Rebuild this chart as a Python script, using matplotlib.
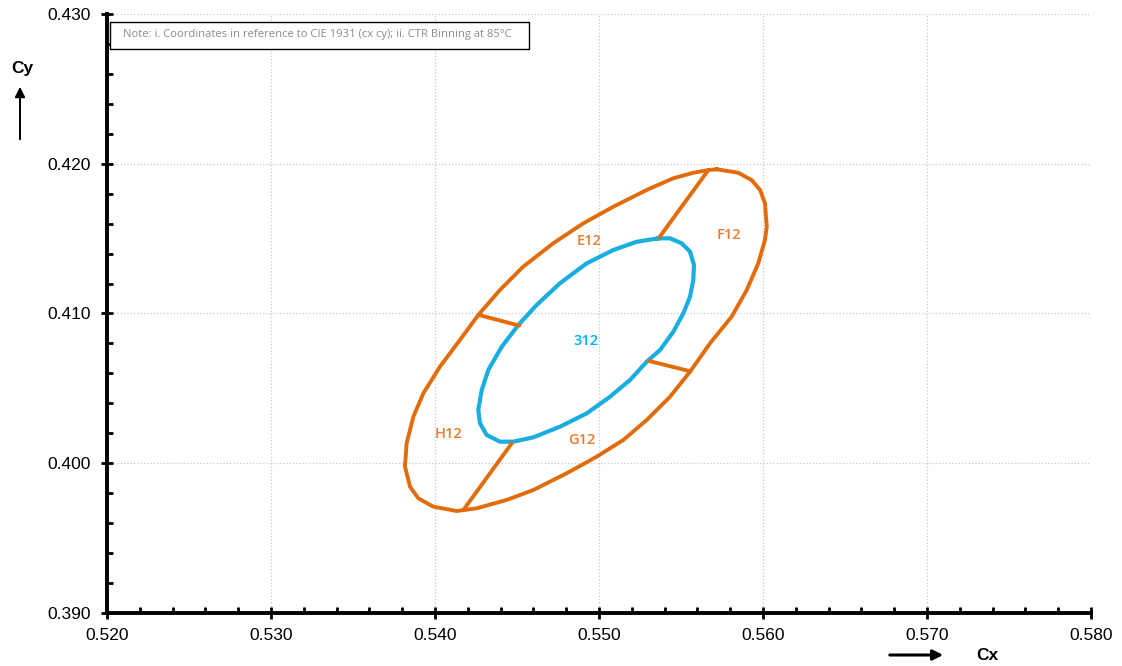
import numpy as np
import matplotlib.pyplot as plt
from matplotlib.patches import Rectangle, FancyArrowPatch
from matplotlib.ticker import MultipleLocator, FormatStrFormatter

# outer boundary (E12/F12/G12/H12 ring)
outer_x = [0.55718, 0.55849, 0.55931, 0.55982, 0.56012, 0.56023, 0.56012, 0.55971,
           0.55901, 0.55809, 0.55677, 0.55555, 0.55433, 0.55291, 0.55148, 0.54986,
           0.54803, 0.54599, 0.54437, 0.54254, 0.54132, 0.53990, 0.53898, 0.53848,
           0.53817, 0.53827, 0.53868, 0.53929, 0.54030, 0.54152, 0.54264, 0.54396,
           0.54538, 0.54721, 0.54904, 0.55087, 0.55291, 0.55453, 0.55575, 0.55667,
           0.55718]
outer_y = [0.41963, 0.41940, 0.41891, 0.41825, 0.41736, 0.41580, 0.41491, 0.41335,
           0.41157, 0.40979, 0.40801, 0.40611, 0.40444, 0.40289, 0.40155, 0.40044,
           0.39933, 0.39821, 0.39755, 0.39699, 0.39681, 0.39710, 0.39766, 0.39843,
           0.39977, 0.40133, 0.40311, 0.40467, 0.40645, 0.40823, 0.40990, 0.41157,
           0.41313, 0.41469, 0.41602, 0.41713, 0.41825, 0.41903, 0.41940, 0.41958,
           0.41963]

# inner bin 312
inner_x = [0.55362, 0.55433, 0.55504, 0.55555, 0.55579, 0.55575, 0.55555, 0.55514,
           0.55453, 0.55372, 0.55291, 0.55189, 0.55067, 0.54925, 0.54762, 0.54599,
           0.54477, 0.54396, 0.54315, 0.54274, 0.54264, 0.54285, 0.54325, 0.54407,
           0.54508, 0.54620, 0.54762, 0.54925, 0.55087, 0.55230, 0.55362]
inner_y = [0.41502, 0.41502, 0.41469, 0.41413, 0.41324, 0.41224, 0.41112, 0.41001,
           0.40878, 0.40756, 0.40678, 0.40556, 0.40444, 0.40333, 0.40244, 0.40173,
           0.40144, 0.40144, 0.40189, 0.40267, 0.40356, 0.40489, 0.40623, 0.40778,
           0.40923, 0.41057, 0.41202, 0.41335, 0.41424, 0.41479, 0.41502]

# dividers between the outer bins (outer point -> inner point)
div_x = [(0.55667, 0.55368), (0.55550, 0.55305), (0.54268, 0.54514), (0.54173, 0.54468)]
div_y = [(0.41958, 0.41509), (0.40616, 0.40683), (0.40990, 0.40919), (0.39688, 0.40133)]

bin_names = ["E12", "F12", "G12", "H12", "312"]
bin_x = [0.54939, 0.55793, 0.54896, 0.54085, 0.54921]
bin_y = [0.41484, 0.41524, 0.40155, 0.40195, 0.40816]

orange = "#E36C0A"
blue = "#1AADE0"

plt.rcParams['font.family'] = ['Liberation Sans', 'DejaVu Sans']

W, H = 1122, 666
fig = plt.figure(figsize=(W / 100, H / 100), dpi=100)
ax = fig.add_axes([107 / W, 53 / H, 984 / W, 599 / H])

ax.plot(outer_x, outer_y, color=orange, lw=2.8, solid_joinstyle='round', zorder=3)
ax.plot(inner_x, inner_y, color=blue, lw=3.0, solid_joinstyle='round', zorder=3)
for xs, ys in zip(div_x, div_y):
    ax.plot(xs, ys, color=orange, lw=2.8, solid_capstyle='round', zorder=3)

for name, x, y in zip(bin_names, bin_x, bin_y):
    ax.text(x, y, name, color="#00B0F0" if name == "312" else "#E97C30",
            fontsize=10.5, fontweight='semibold', ha='center', va='center',
            family=['Open Sans', 'DejaVu Sans'])

ax.set_xlim(0.52, 0.58)
ax.set_ylim(0.39, 0.43)
ax.xaxis.set_major_locator(MultipleLocator(0.01))
ax.yaxis.set_major_locator(MultipleLocator(0.01))
ax.xaxis.set_minor_locator(MultipleLocator(0.002))
ax.yaxis.set_minor_locator(MultipleLocator(0.002))
ax.xaxis.set_major_formatter(FormatStrFormatter('%.3f'))
ax.yaxis.set_major_formatter(FormatStrFormatter('%.3f'))

ax.grid(True, which='major', color='#c8c8c8', ls=':', lw=0.9)
ax.set_axisbelow(True)

for s in ['top', 'right']:
    ax.spines[s].set_visible(False)
for s in ['left', 'bottom']:
    ax.spines[s].set_linewidth(2.8)
    ax.spines[s].set_color('black')

ax.tick_params(which='major', direction='inout', length=9, width=2, labelsize=12.5,
               colors='black')
ax.tick_params(which='minor', direction='in', length=4, width=2)
ax.tick_params(axis='x', which='major', pad=6)
ax.tick_params(axis='y', which='major', pad=7)

# note box
fig.add_artist(Rectangle((110 / W, 1 - 49 / H), 419 / W, 27 / H, transform=fig.transFigure,
                         fc='white', ec='black', lw=1.0, zorder=5))
fig.text(123 / W, 1 - 35 / H, "Note: i. Coordinates in reference to CIE 1931 (cx cy); ii. CTR Binning at 85°C",
         fontsize=8.1, color='#8c8c8c', ha='left', va='center', family=['Open Sans', 'DejaVu Sans'],
         zorder=6)

# axis titles with arrows
fig.text(22 / W, 1 - 68 / H, "Cy", fontsize=12.5, fontweight='bold', ha='center', va='center')
fig.text(987 / W, 1 - 655 / H, "Cx", fontsize=12.5, fontweight='bold', ha='center', va='center')
fig.add_artist(FancyArrowPatch((20 / W, 1 - 142 / H), (20 / W, 1 - 84 / H), transform=fig.transFigure,
                               arrowstyle='-|>,head_length=6,head_width=3', color='black', lw=1.4))
fig.add_artist(FancyArrowPatch((887 / W, 1 - 655 / H), (946 / W, 1 - 655 / H), transform=fig.transFigure,
                               arrowstyle='-|>,head_length=6,head_width=3', color='black', lw=2.2))

fig.savefig("out.png", dpi=100)
plt.close()
